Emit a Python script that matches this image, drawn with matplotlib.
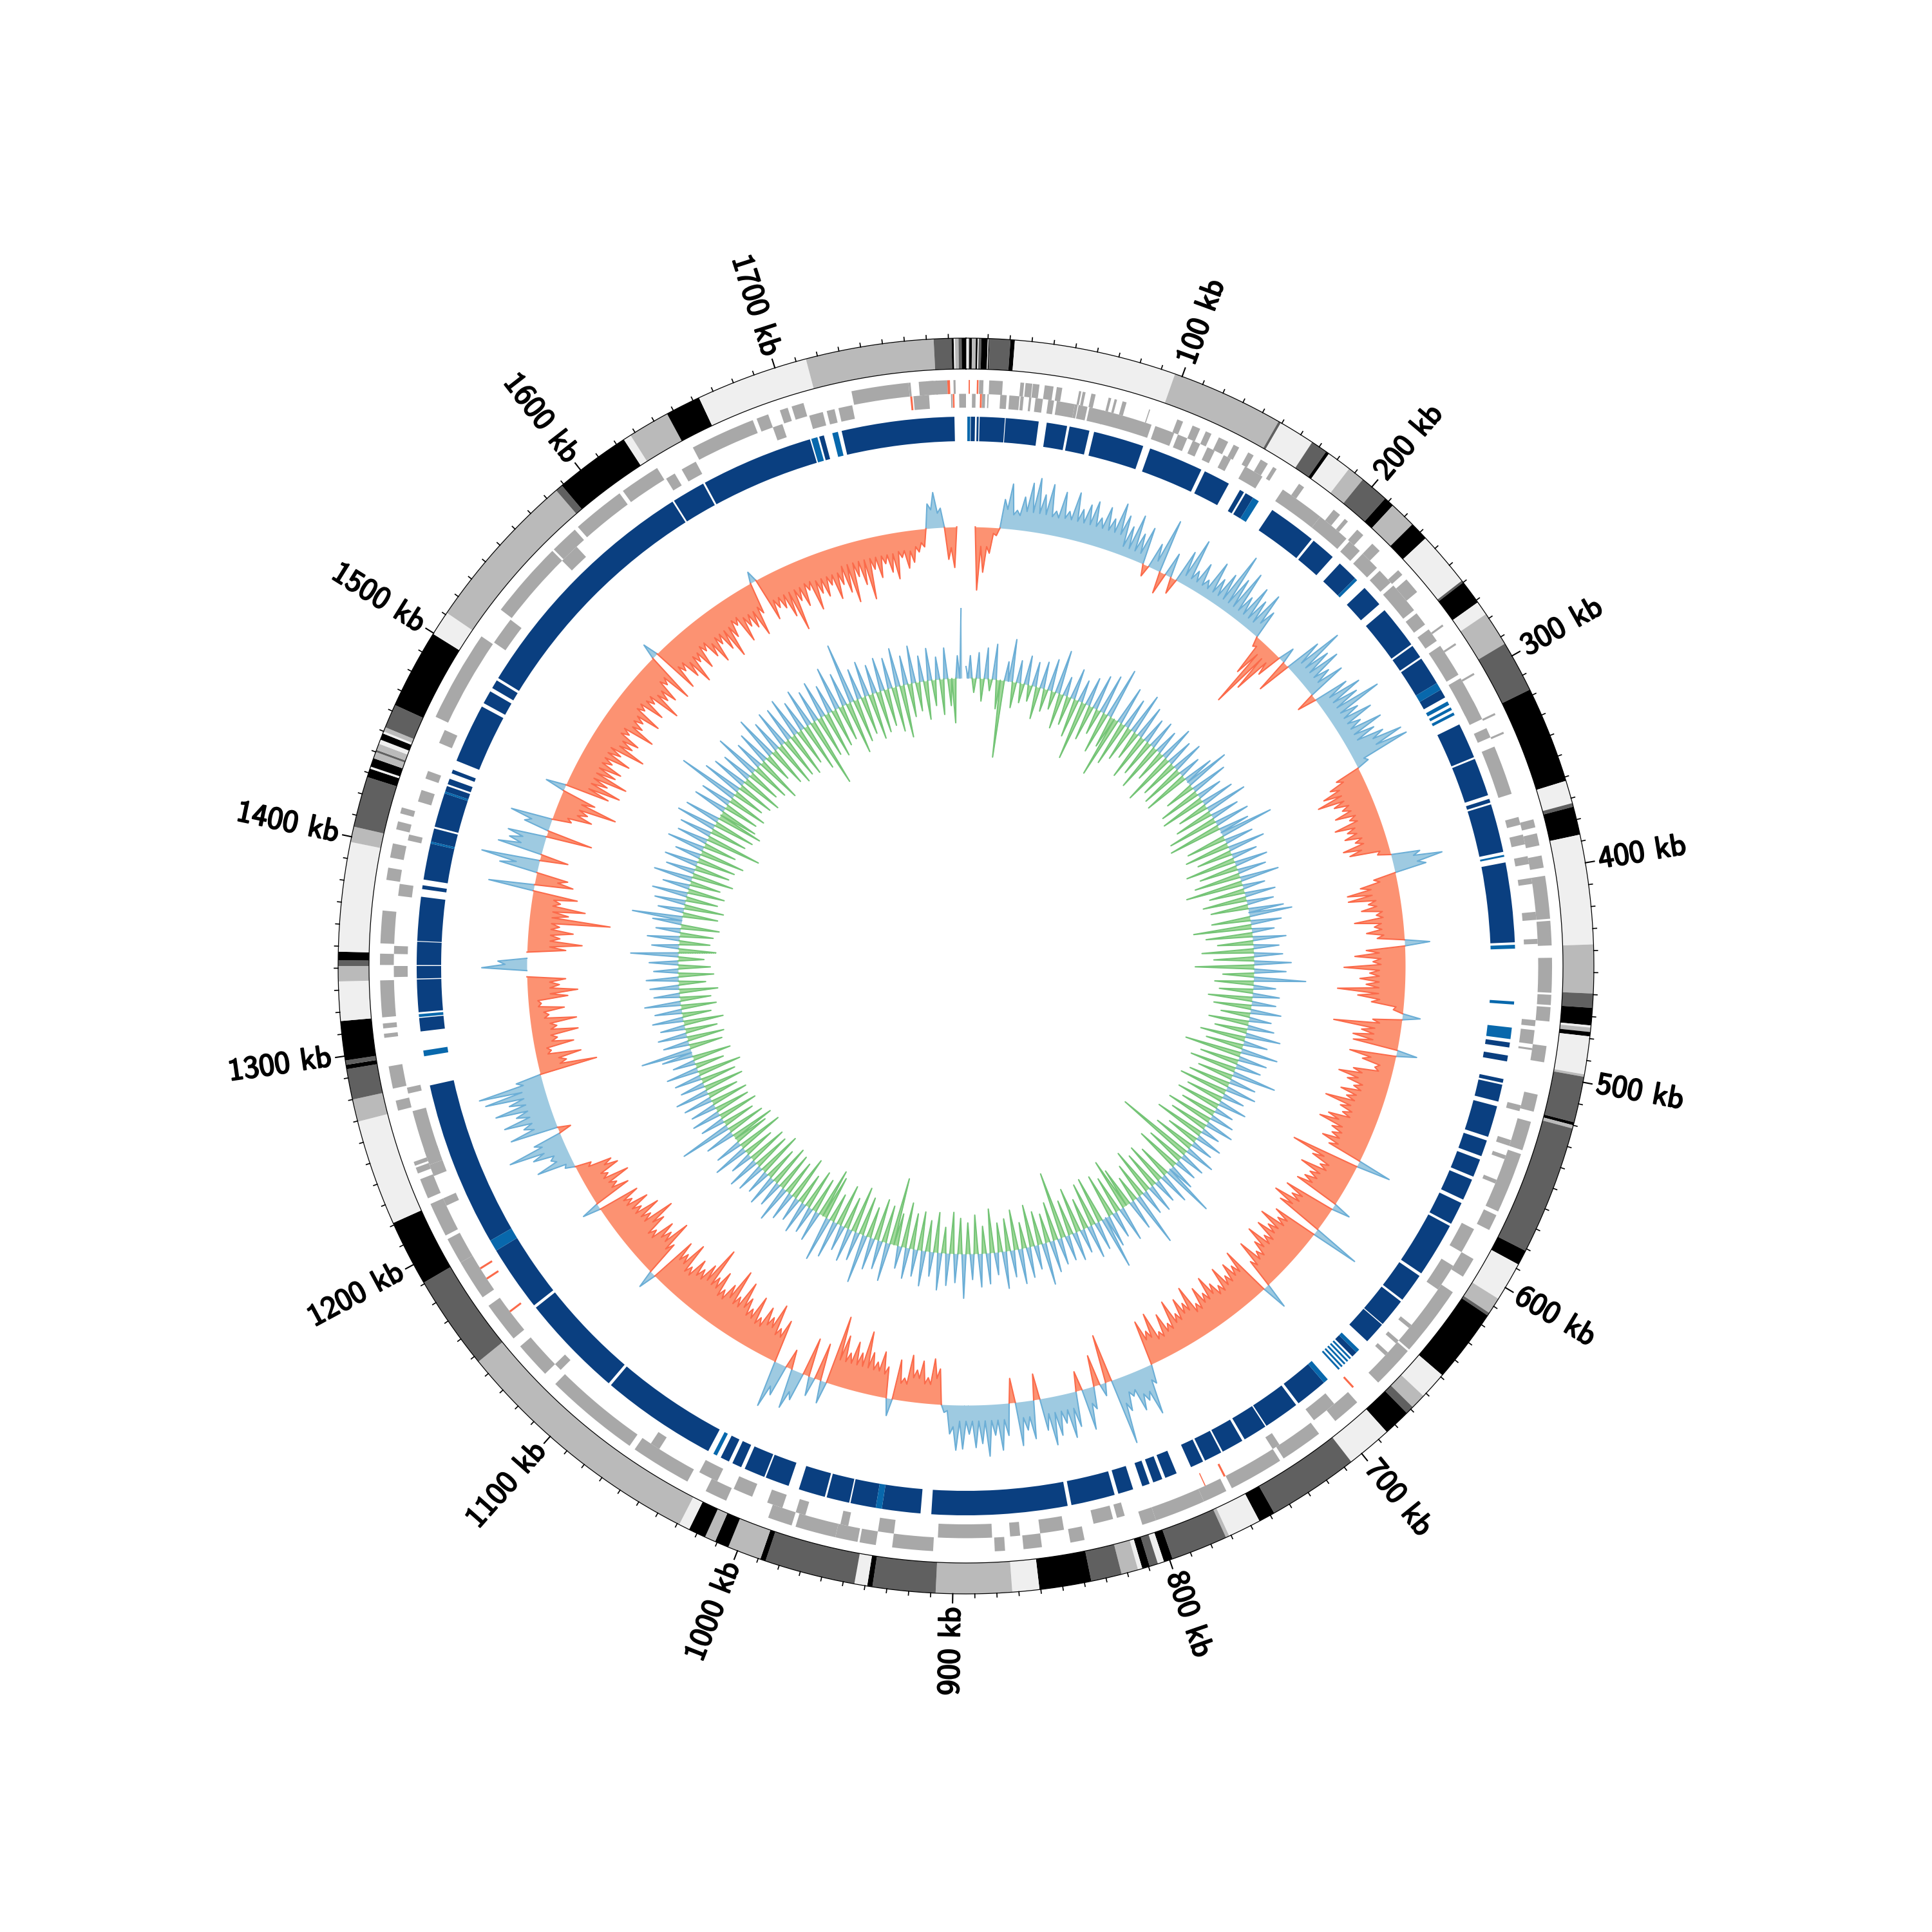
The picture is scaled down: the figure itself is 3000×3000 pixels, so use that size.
import numpy as np
import matplotlib
matplotlib.use("Agg")
import matplotlib.pyplot as plt
import matplotlib.patheffects as pe

GENOME_KB = 1788

# Outer ring: end of each band (kb) and its shade, clockwise from 0
bands = [(0.2, "k"), (1, "l"), (1.5, "m"), (2.7, "k"), (4.5, "m"), (5.3, "k"), (5.8, "l"), (7, "d"), (9.9, "k"),
         (10.3, "l"), (10.7, "k"), (20.2, "d"), (22.2, "k"), (96.6, "l"), (148.3, "m"), (149.5, "d"), (166.2, "l"),
         (173.8, "d"), (175.4, "k"), (186.8, "l"), (194.7, "m"), (208, "d"), (212.7, "k"), (225, "m"), (233.7, "k"),
         (259, "l"), (260, "d"), (271.2, "k"), (277.7, "l"), (293.6, "m"), (317.3, "d"), (361.8, "k"), (372.3, "l"),
         (374, "d"), (387, "k"), (437.2, "l"), (459.5, "m"), (466, "d"), (474, "k"), (475, "l"), (477, "m"),
         (479, "k"), (496.4, "l"), (497.5, "m"), (518.6, "d"), (520, "k"), (521.5, "m"), (581, "d"), (588, "k"),
         (606, "l"), (613.6, "m"), (615, "d"), (649, "k"), (661.7, "l"), (668.7, "m"), (672.5, "d"), (685, "k"),
         (706, "l"), (748, "d"), (755.6, "k"), (770.9, "l"), (772.5, "m"), (798.6, "d"), (802.7, "k"), (805.6, "l"),
         (809.5, "d"), (813, "k"), (815, "l"), (822.7, "m"), (836.8, "d"), (860.6, "k"), (873, "l"), (907.8, "m"),
         (936.6, "d"), (939, "k"), (944.9, "l"), (986.5, "d"), (989, "k"), (1004.5, "m"), (1011, "k"), (1016, "m"),
         (1024, "k"), (1029, "l"), (1147, "m"), (1190.6, "d"), (1221, "k"), (1269.7, "l"), (1280, "m"), (1294, "d"),
         (1296, "k"), (1298, "d"), (1316, "k"), (1334, "l"), (1341, "m"), (1343.6, "d"), (1347.5, "k"), (1397.6, "l"),
         (1404.7, "m"), (1428, "d"), (1432, "k"), (1433, "l"), (1437, "k"), (1440, "m"), (1441, "d"), (1444, "m"),
         (1446, "l"), (1449, "k"), (1450, "l"), (1452, "m"), (1463, "d"), (1499.6, "k"), (1511, "l"), (1585.6, "m"),
         (1589, "d"), (1624, "k"), (1627.6, "l"), (1646.8, "m"), (1663, "k"), (1714.6, "l"), (1773.3, "m"),
         (1781.4, "d"), (1782.4, "k"), (1783, "l"), (1784.6, "m"), (1786, "d"), (1788, "k")]
shade_colors = {"l": "#efefef", "m": "#bababa", "d": "#606060", "k": "#000000"}

# Genes, outer row (forward strand), kb
genes_outer = [(1760, 1761), (1768.6, 1772.2), (1773.3, 1778.9), (1781.9, 1782.9), (6.4, 8.5), (11.3, 17.9),
               (26.5, 28.3), (29, 32.3), (32.6, 35.8), (38.4, 42.7), (44.3, 47), (55.3, 56.4), (57.1, 58.5),
               (61.4, 63.5), (70, 71.3), (73, 74.2), (77, 79), (90.5, 91), (105, 108), (113, 117), (120, 123),
               (127, 132), (135, 138), (143, 146), (150, 154), (157, 159), (172, 175), (193, 197), (200, 202),
               (208, 212), (218, 223), (236, 239), (242, 250), (270, 271), (281, 282), (298, 299), (320, 321),
               (330, 331), (375, 379), (382, 388), (393, 399), (403, 424), (425, 437), (443, 460), (461, 466),
               (467, 474), (486, 494), (510, 518.5), (523.6, 538), (540, 570), (572, 580), (596, 606),
               (615, 650), (651, 672), (686, 700), (710, 731), (733, 760), (763, 775), (775, 800), (800, 807),
               (836, 843), (857, 866), (875, 880), (910, 930), (938, 946), (947, 958), (958, 978), (980, 992),
               (1014, 1025), (1035, 1065), (1068, 1115), (1122, 1140), (1145, 1165), (1170, 1190), (1190, 1203),
               (1205, 1222), (1225, 1235), (1238, 1241), (1242, 1244), (1270, 1275), (1281, 1292), (1306, 1308),
               (1310.6, 1313), (1316, 1334), (1341.5, 1347), (1352, 1368), (1383, 1389), (1394, 1401),
               (1408, 1412), (1416, 1419), (1466, 1511), (1527, 1565), (1566, 1580), (1582, 1608), (1610, 1630),
               (1650, 1682), (1684, 1690), (1696, 1700), (1702, 1708), (1732, 1760), (1765, 1774)]

# Genes, inner row (reverse strand), kb
genes_inner = [(1761.8, 1769.6), (1780.5, 1781.2), (1784.6, 1788), (3, 4.8), (8, 9.6), (10.7, 11.3), (17.1, 20.3),
               (21.6, 26.7), (27.2, 28.8), (31.5, 32.6), (34.7, 38.4), (41.1, 44), (45.4, 54.5), (54.5, 56),
               (56.4, 60.9), (61.9, 69.4), (68.9, 94), (96, 106), (108, 113), (116, 120), (124, 128), (133, 137),
               (145, 155), (167, 190), (190, 207), (209, 216), (218, 228), (230, 238), (240, 256), (258, 265),
               (268, 275), (278, 295), (297, 315), (310, 320), (325, 330), (335, 360), (372, 376), (381, 386),
               (392, 396), (403, 406), (420, 424), (433.5, 436), (474, 477), (479, 486), (488, 489), (517, 520),
               (535, 538), (543, 545), (556, 558), (583, 596), (604, 618), (640, 642), (650, 652), (658, 660),
               (695, 708), (729, 733), (814, 818), (820, 830), (845, 857), (867, 872), (881, 908), (930, 938),
               (953, 957), (975, 980), (987, 995), (1003, 1013), (1022, 1032), (1055, 1060), (1118, 1122),
               (1218, 1222), (1234, 1240), (1240, 1248), (1244, 1268), (1277, 1280), (1335.5, 1341), (1347, 1351),
               (1376, 1382), (1404, 1407), (1424, 1430), (1436, 1440), (1455, 1462), (1512, 1526), (1565, 1575),
               (1631, 1636), (1640, 1648), (1690, 1695), (1709, 1716), (1718, 1722), (1724, 1731)]

# The few tomato coloured genes: outer row, inner row
red_outer = [(1778.9, 1780.2), (1.3, 1.9), (5.3, 6.1)]
red_inner = [(1760.2, 1761.2), (1781.4, 1782.2), (7, 7.9), (771, 771.5), (760, 761), (682, 683), (1156, 1157),
             (1182, 1183), (1176, 1177)]

# Coding track: dark and lighter blue segments, kb
cds_dark = [(2.5, 4.7), (5.6, 6.6), (7.1, 20.2), (20.6, 37.8), (42, 52.7), (54, 64.5), (67, 93.5), (97.3, 126),
            (128, 142), (148.6, 151), (152, 156.5), (168.3, 193.7), (195, 208), (213, 224), (231, 242.4),
            (246.5, 269), (270, 277), (278, 293), (297, 301.6), (317.4, 336), (337, 357), (359, 361),
            (362, 387.4), (393, 434.7), (486.8, 489.4), (493.6, 496.7), (506, 508), (509, 518), (520.5, 537),
            (539, 547.6), (549.5, 559), (560.7, 572), (574, 586), (587.3, 616), (617.6, 632.8), (634, 649),
            (649.5, 661), (669, 672), (692, 709), (710.5, 729.3), (730, 742.6), (744, 755.6), (756.5, 765.9),
            (767, 773.9), (782, 788.3), (790, 795), (797, 801), (806, 814), (816, 839), (841, 912), (917.6, 937.8),
            (941, 954.3), (955, 967), (968, 982), (987.6, 1000.2), (1001, 1012), (1014, 1019), (1021, 1025.7),
            (1033, 1094), (1095.5, 1150), (1151.5, 1186), (1192, 1278.6), (1307, 1314), (1317, 1334),
            (1334.5, 1341), (1341.5, 1353.6), (1354, 1377), (1381, 1383), (1386, 1405), (1406, 1413),
            (1414, 1432), (1433, 1436), (1437, 1440), (1443, 1445), (1450, 1481), (1483, 1490), (1492, 1496.6),
            (1498, 1627.6), (1628.5, 1646), (1647, 1706), (1711, 1713.5), (1723, 1782)]
cds_light = [(0.7, 2.2), (156.5, 160), (224, 225.5), (293, 297), (304, 306), (307.5, 309), (310.5, 312),
             (389, 390), (436, 438), (465.4, 467), (479, 485), (667, 669), (673, 674), (675, 676), (677, 678),
             (679, 680), (681, 682), (689.4, 692), (937.8, 941), (1028, 1030), (1186, 1192), (1294, 1297),
             (1314.5, 1316), (1405, 1406), (1432, 1433), (1706.7, 1710), (1718, 1721)]

# GC content: spike tops, offset from the track baseline, one every 4 kb (0 = no line)
gc_content = [
    0, 0, -98, -70, -40, -12, 45, 70, 30, 52, 75, 84, 60, 78, 38, 70, 42, 74, 50, 60, 68, 45, 65, 50, 78,
    62, 48, 70, 44, 58, -18, 40, 84, -34, 38, -25, 52, 77, 30, 48, 26, 62, 40, 55, 95, 60, 78, 42, 66, 50,
    69, 45, -15, -60, -112, -77, -40, 25, -54, 58, 90, 60, 70, 45, 62, -30, 55, 72, 60, 92, 48, 65, 40, 70, 52,
    62, 88, 92, 20, -40, -55, -70, -83, -60, -50, -65, -45, -72, -55, -62, -48, -70, -62, -20, 45, 78, 50, -35, -58, -80,
    -80, -50, -62, -40, -75, -45, -58, -42, 39, -60, -78, -50, -95, -55, -70, -60, -104, -72, -50, -15, 28, -45, -105, -60, -72,
    -70, 32, -72, -50, -28, -60, -81, -65, -52, -70, -58, -89, -62, -55, -75, -86, -62, -58, -70, -55, 54, -107, -70, -52, -80,
    -60, -64, -72, 29, -80, -65, -90, -75, 76, -70, -60, -85, -65, -78, -58, -82, -62, -50, -75, -45, 41, -79, -60, -70, -55,
    -75, -50, -60, -77, -55, -70, -48, -82, -60, -72, -52, -78, -45, -65, -40, -75, -50, -70, 30, 76, 50, 62, 35, 55, 104,
    -75, 20, -48, 35, 65, -30, 55, 70, 45, 62, 75, 50, -40, 60, 45, 68, -38, 50, 72, 48, 80, 60, 66, 45, 68,
    70, 45, 12, -55, -70, -40, -65, -50, -72, -35, -62, 27, -48, -70, -52, -65, -96, -60, -75, -55, -80, -108, 35, -58, 30,
    -60, 45, 62, -30, 50, 73, -67, -50, -85, -60, -72, -50, -80, -55, -68, -90, -60, -100, -70, -55, -80, -65, -110, -75, -60,
    -70, -50, -85, -60, -75, 28, -55, -90, -65, -75, -50, -72, -94, -60, -80, -55, -72, -50, -65, 28, -60, -45, -70, -40, -62,
    -55, -25, 15, 57, 30, 55, 90, 45, -20, 75, 50, 78, 55, 85, 60, 95, 102, 40, -91, -45, -70, -25, -62, -38, -72,
    -40, -72, -30, -55, -20, -62, -78, -50, -60, 0, 70, 45, 0, -60, -85, -50, -70, -48, -126, -60, -85, -45, -70, 71, -60,
    -50, 60, 91, -44, 70, 55, 60, -72, 40, 65, -30, -60, -50, -93, -55, 31, -70, -85, -60, -88, -65, -70, -50, -75, -55,
    -90, -65, -70, -48, -85, -60, -55, -78, -45, -72, -50, -88, -62, -70, -45, -80, 24, -75, -50, -68, -85, -55, -72, -48, -65,
    -80, -55, -70, -88, -60, -45, -78, -58, -65, -82, -50, 17, -70, -55, -60, -78, -104, -60, -72, -50, -85, -62, -70, -55, -80,
    -60, -75, -93, -55, -70, -95, -50, -65, -45, -60, -72, -40, -58, -50, -35, -28, 38, 55, 30, -50, -63, 0,
]
# thickness of the filled band between GC spikes, one per 100 kb
gc_band = [30, 14, 20, 42, 40, 60, 55, 55, 25, 40, 50, 55, 35, 35, 35, 45, 40, 32]

# GC skew: spike tops, offset from the inner baseline, one every 4 kb
gc_skew = [
    18, 35, -22, 40, -35, 48, -18, 55, -45, -120, 30, 66, -40, 35, -30, 45, -25, 38, -50, 42, -35, 50, -28, 68, -55,
    30, -45, 48, -60, 35, -92, 45, -55, 55, -40, 62, -65, 80, -50, -96, 60, -70, 48, -55, 65, -45, 52, -72, 40, -58,
    45, -75, 38, -50, 55, -82, 42, -60, 50, -68, 35, -72, 48, 71, -47, 58, -65, 40, -70, 52, -48, 66, -60, 45, -78,
    55, -83, 48, 84, -62, 45, -70, 58, -55, 40, -78, 52, -60, 45, -72, 61, -89, 35, -55, 48, -68, 42, -58, 55, 67,
    -60, 48, -90, 35, -72, 52, -55, 40, -80, 45, -62, 58, -91, 50, -48, 81, -60, 35, -52, 42, -68, 38, -58, 48, -45,
    35, -62, 42, -50, 55, -70, 38, -58, 58, -88, 45, -60, 40, -72, 69, -55, 42, -65, 48, -75, 35, -58, 45, -68, 30,
    -55, 38, -72, 45, -60, 30, -78, 42, -50, 35, -65, 48, -122, 40, -60, 36, -70, 42, 83, -52, 50, -65, 38, -58, 45,
    -72, 40, -55, 84, -40, 48, -62, -81, 55, -58, 42, -68, 50, 82, -72, 45, -68, 52, -48, 38, -70, 45, -55, 40, -104,
    42, -60, 50, -45, 66, -52, 38, -65, 48, -40, 55, -62, 42, -50, 58, -45, 35, -68, 48, -42, 52, -60, 40, -48, 69,
    -55, 45, -64, 50, -40, 58, -62, 38, -48, 55, -60, 42, -55, 48, -70, 35, -50, -105, 60, -58, 45, -65, 50, -48, 76,
    -60, 45, -72, 52, -50, 40, -65, 58, -45, 70, -68, -77, 48, -55, 42, -62, 50, -48, 38, -70, 45, -55, 57, -60, 40,
    -65, 48, -52, 38, -70, 45, -58, 50, -62, 35, -48, 55, -72, 42, -55, -69, 46, -60, 81, -50, 38, -62, 45, -55, 40,
    -58, 45, -48, 52, -62, 38, -55, 42, -68, 50, -45, 35, -60, 48, 79, -52, 40, -58, 45, -50, 38, -62, 48, -45, 42,
    -55, 56, -48, 40, -60, 45, -42, 50, -55, 38, -50, 45, -40, 74, -58, 42, -48, 50, -52, 38, -60, 45, 78, -55, 40,
    -62, 48, -50, 55, -58, 42, -48, 60, -65, 45, -55, 52, -60, 40, -70, 58, -52, 48, -87, 50, -58, 62, -65, 55, -72,
    -60, 52, -55, 48, -62, 95, -50, 62, -58, 55, -65, 48, -52, 70, -60, 45, -72, 52, -45, 68, -62, 50, -70, 58, -65,
    55, -70, 62, -58, 48, -75, 60, -108, 50, -65, 58, -72, 45, -60, 68, -55, 52, -82, 94, -68, 48, -60, 55, -72, 45,
    -65, 52, -58, 48, -70, 60, -82, 45, -52, 58, -45, 40, -60, 50, -40, 35, -55, 48, -42, -69, 35, 108,
]

major_ticks = list(range(100, 1800, 100))
minor_ticks = [k for k in range(10, 1790, 10) if k % 100 != 0]


def ang(kb):
    return np.asarray(kb, dtype=float) / GENOME_KB * 2 * np.pi


def arcs(ax, pairs, r0, r1, color, z=2):
    pairs = np.array(pairs, dtype=float)
    width = ang(pairs[:, 1] - pairs[:, 0])
    ax.bar(ang(pairs[:, 0]) + width / 2, r1 - r0, width=width, bottom=r0, color=color, linewidth=0, zorder=z)


def spiky(values, band):
    # spikes at every value, with the band level halfway between two of the same sign
    v = np.array(values, dtype=float)
    out = np.zeros(2 * len(v) - 1)
    out[::2] = v
    for i in range(len(v) - 1):
        a, b = v[i], v[i + 1]
        if band is not None and a * b > 0:
            lev = band[min(i // 25, len(band) - 1)]
            out[2 * i + 1] = np.sign(a) * min(lev, 0.75 * min(abs(a), abs(b)))
    return np.arange(len(out)) * 2.0, out


def signed_track(ax, values, base, pos_style, neg_style, band=None):
    kb, v = spiky(values, band)
    x = ang(kb)
    for part, (fill_col, line_col) in ((np.where(v > 0, v, 0), pos_style), (np.where(v < 0, v, 0), neg_style)):
        ax.fill_between(x, base, base + part, color=fill_col, linewidth=0, zorder=3)
        on = part != 0
        keep = on | np.r_[on[1:], False] | np.r_[False, on[:-1]]
        ax.plot(x, np.ma.masked_where(~keep, base + part), color=line_col, lw=0.5, zorder=4)


fig = plt.figure(figsize=(10, 10), dpi=300)
ax = fig.add_axes([0, 0, 1, 1], polar=True)
ax.set_theta_zero_location("N")
ax.set_theta_direction(-1)
ax.set_rlim(0, 1500)
ax.axis("off")

# outer ring
start = 0
for end, shade in bands:
    ax.bar(ang((start + end) / 2), 48, width=ang(end - start), bottom=927, color=shade_colors[shade],
           linewidth=0, zorder=2)
    start = end
circle = np.linspace(0, 2 * np.pi, 721)
for r in (927, 975):
    ax.plot(circle, np.full_like(circle, r), color="black", lw=0.3, zorder=5)

# ticks and labels
for k in minor_ticks:
    ax.plot([ang(k)] * 2, [975, 981], color="black", lw=0.4, zorder=5)
for k in major_ticks:
    th = float(ang(k))
    ax.plot([th, th], [975, 989], color="black", lw=0.5, zorder=5)
    deg = np.degrees(th)
    right = deg < 180
    ax.text(th, 996, f"{k} kb", family=["cmss10", "DejaVu Sans"], fontsize=11.6,
            rotation=90 - deg if right else 270 - deg, rotation_mode="anchor",
            ha="left" if right else "right", va="center",
            path_effects=[pe.withStroke(linewidth=0.5, foreground="black")])

# gene rows
arcs(ax, genes_outer, 888.5, 910, "#a8a8a8")
arcs(ax, genes_inner, 867, 888.5, "#a8a8a8")
arcs(ax, red_outer, 888.5, 910, "#fb6a4a", 3)
arcs(ax, red_inner, 867, 888.5, "#fb6a4a", 3)

# coding track
arcs(ax, cds_dark, 815, 853, "#0a3f80")
arcs(ax, cds_light, 815, 853, "#0868ac")

# GC content and skew
signed_track(ax, gc_content, 682, ("#9ecae1", "#6baed6"), ("#fc9272", "#fb6a4a"), gc_band)
signed_track(ax, gc_skew, 447, ("#9ecae1", "#6baed6"), ("#a1d99b", "#74c476"))

fig.savefig("out.png", dpi=300, facecolor="white")
